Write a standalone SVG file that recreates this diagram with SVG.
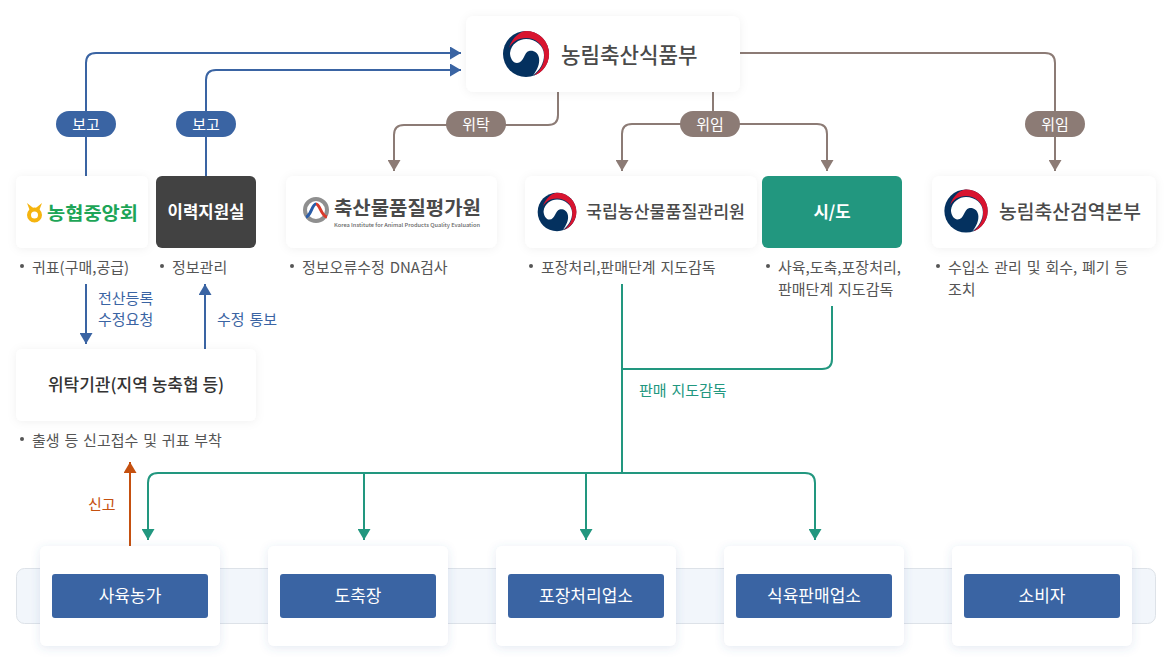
<svg xmlns="http://www.w3.org/2000/svg" width="1172" height="658" viewBox="0 0 1172 658">
<style>
text{font-family:"Noto Sans CJK KR","Noto Sans",sans-serif}
.card{fill:#fff;filter:url(#sh)}
.cardb{fill:#fff;filter:url(#shb)}
.ln{fill:none;stroke-width:2}
.b{stroke:#3a64a3}.t{stroke:#8c7b75}.g{stroke:#22977f}.o{stroke:#c5500f}
.pill{font-size:15px;fill:#fff;text-anchor:middle}
.d{font-size:15px;fill:#555;word-spacing:1.500px}
.e{font-size:15px;word-spacing:1.500px}
.bl{fill:#555}
.inner{fill:#3a64a3}
.it{font-size:17px;fill:#fff;text-anchor:middle}
.logo{font-weight:500;fill:#4a4a4a}
</style>
<defs>
<filter id="sh" x="-20%" y="-30%" width="140%" height="160%"><feDropShadow dx="0" dy="1" stdDeviation="5" flood-color="#000" flood-opacity=".06"/></filter>
<filter id="shb" x="-20%" y="-30%" width="140%" height="160%"><feDropShadow dx="0" dy="2" stdDeviation="5" flood-color="#3a64a3" flood-opacity=".14"/></filter>
<marker id="ab" markerUnits="userSpaceOnUse" markerWidth="13" markerHeight="13" refX="11" refY="6.500" orient="auto"><path d="M0 0L11 6.500L0 13z" fill="#3a64a3"/></marker>
<marker id="at" markerUnits="userSpaceOnUse" markerWidth="13" markerHeight="13" refX="11" refY="6.500" orient="auto"><path d="M0 0L11 6.500L0 13z" fill="#8c7b75"/></marker>
<marker id="ag" markerUnits="userSpaceOnUse" markerWidth="13" markerHeight="13" refX="11" refY="6.500" orient="auto"><path d="M0 0L11 6.500L0 13z" fill="#22977f"/></marker>
<marker id="ao" markerUnits="userSpaceOnUse" markerWidth="13" markerHeight="13" refX="11" refY="6.500" orient="auto"><path d="M0 0L11 6.500L0 13z" fill="#c5500f"/></marker>
<g id="emb">
<circle cx="0" cy="0" r="23" fill="#04315f"/>
<path d="M-17 -6C-14 -17 -5 -23 0 -23A23 23 0 0 1 8 21.600C16 15 19 8 18 -1C17 -10 9 -16 0 -16C-8 -16 -14 -12 -17 -6Z" fill="#d8142f"/>
<path d="M-16 -1C-15 -10 -7 -15 0 -15C10 -15 18 -8 18 1C18 9 14 16 7 21.500C11 16 14 10 13 4C12 -2 7 -4 3 -3C-2 -2 -2 9 -9 9C-13 9 -16 4 -16 -1Z" fill="#fff"/>
</g>
</defs>
<rect width="1172" height="658" fill="#fff"/>
<rect x="16.500" y="568.500" width="1139" height="55" rx="8" fill="#f2f6fb" stroke="#dde2e8"/>
<g id="connectors">
<path class="ln b" marker-end="url(#ab)" d="M86 176V63Q86 53 96 53H461"/>
<path class="ln b" marker-end="url(#ab)" d="M206 176V80Q206 70 216 70H461"/>
<path class="ln b" marker-end="url(#ab)" d="M86 284V344"/>
<path class="ln b" marker-end="url(#ab)" d="M205 349V284"/>
<path class="ln t" marker-end="url(#at)" d="M558 92V115Q558 125 548 125H404Q394 125 394 135V171"/>
<path class="ln t" d="M713 92V125"/>
<path class="ln t" marker-end="url(#at)" d="M713 124H632Q622 124 622 134V171"/>
<path class="ln t" marker-end="url(#at)" d="M713 124H817Q827 124 827 134V171"/>
<path class="ln t" marker-end="url(#at)" d="M740 53H1045Q1055 53 1055 63V171"/>
<path class="ln g" d="M622 284V473"/>
<path class="ln g" d="M832 306V359Q832 369 822 369H622"/>
<path class="ln g" marker-end="url(#ag)" d="M622 473H158Q148 473 148 483V540"/>
<path class="ln g" marker-end="url(#ag)" d="M364 473V540"/>
<path class="ln g" marker-end="url(#ag)" d="M586 473V540"/>
<path class="ln g" marker-end="url(#ag)" d="M622 473H805Q815 473 815 483V540"/>
<path class="ln o" marker-end="url(#ao)" d="M130 546V462"/>
</g>
<g id="pills">
<rect x="56" y="111" width="60" height="26" rx="13" fill="#3a64a3"/><text class="pill" x="86" y="129.500">보고</text>
<rect x="176" y="111" width="60" height="26" rx="13" fill="#3a64a3"/><text class="pill" x="206" y="129.500">보고</text>
<rect x="446" y="111" width="60" height="26" rx="13" fill="#8c7b75"/><text class="pill" x="476" y="129.500">위탁</text>
<rect x="680" y="111" width="60" height="26" rx="13" fill="#8c7b75"/><text class="pill" x="710" y="129.500">위임</text>
<rect x="1025" y="111" width="60" height="26" rx="13" fill="#8c7b75"/><text class="pill" x="1055" y="129.500">위임</text>
</g>
<g id="edge-labels">
<text class="e" x="98" y="304" fill="#3a64a3">전산등록</text>
<text class="e" x="98" y="325" fill="#3a64a3">수정요청</text>
<text class="e" x="217" y="325" fill="#3a64a3">수정 통보</text>
<text class="e" x="639" y="396" fill="#22977f">판매 지도감독</text>
<text class="e" x="88" y="510" fill="#c5500f">신고</text>
</g>
<g id="n-mafra"><rect class="card" x="466" y="16" width="274" height="76" rx="8"/><use href="#emb" x="526" y="54"/><text class="logo" x="561" y="62.500" font-size="21.200">농림축산식품부</text></g>
<g id="n-nh"><rect class="card" x="16" y="176" width="132" height="72" rx="6"/>
<circle cx="34.500" cy="215" r="5.500" fill="none" stroke="#f5b40f" stroke-width="4"/><path d="M27 203L34.500 209L42 203L39 211H30Z" fill="#f5b40f"/>
<text x="47" y="220" font-size="18" font-weight="700" fill="#1da557" textLength="91" lengthAdjust="spacingAndGlyphs">농협중앙회</text></g>
<g id="n-trace"><rect x="156" y="176" width="100" height="72" rx="6" fill="#424242"/><text x="206" y="218" font-size="16.700" font-weight="700" fill="#fff" text-anchor="middle">이력지원실</text></g>
<g id="n-kape"><rect class="card" x="286" y="176" width="211" height="72" rx="8"/>
<circle cx="316" cy="210" r="11" fill="none" stroke="#8f8f8f" stroke-width="4"/>
<path d="M306 217C311 216 312 204 316 204" fill="none" stroke="#2a5ca8" stroke-width="3"/><path d="M316 204C320 204 321 216 327 217" fill="none" stroke="#d93a2b" stroke-width="3"/>
<text x="334" y="215" font-size="19" font-weight="700" fill="#4a4a4a" textLength="147" lengthAdjust="spacingAndGlyphs">축산물품질평가원</text>
<text x="334" y="226.500" font-size="5" font-weight="500" fill="#666" textLength="146" lengthAdjust="spacingAndGlyphs">Korea Institute for Animal Products Quality Evaluation</text></g>
<g id="n-naqs"><rect class="card" x="525" y="176" width="232" height="72" rx="8"/><use href="#emb" transform="translate(557 212) scale(.84)"/><text class="logo" x="586" y="218" font-size="17.300">국립농산물품질관리원</text></g>
<g id="n-sido"><rect x="762" y="176" width="140" height="72" rx="6" fill="#22977f"/><text x="832" y="218" font-size="16.700" font-weight="700" fill="#fff" text-anchor="middle">시/도</text></g>
<g id="n-qia"><rect class="card" x="932" y="176" width="224" height="72" rx="8"/><use href="#emb" transform="translate(966 211) scale(.94)"/><text class="logo" x="999" y="218.500" font-size="19.300">농림축산검역본부</text></g>
<g id="n-agency"><rect class="card" x="16" y="349" width="240" height="72" rx="6"/><text x="136" y="391" font-size="17" font-weight="500" fill="#333" text-anchor="middle">위탁기관(지역 농축협 등)</text></g>
<g id="descs">
<circle class="bl" cx="22" cy="266" r="2"/><text class="d" x="32" y="272.500">귀표(구매,공급)</text>
<circle class="bl" cx="162" cy="266" r="2"/><text class="d" x="172" y="272.500">정보관리</text>
<circle class="bl" cx="292" cy="266" r="2"/><text class="d" x="302" y="272.500">정보오류수정 DNA검사</text>
<circle class="bl" cx="531" cy="266" r="2"/><text class="d" x="541" y="272.500">포장처리,판매단계 지도감독</text>
<circle class="bl" cx="768" cy="266" r="2"/><text class="d" x="778" y="272.500">사육,도축,포장처리,</text><text class="d" x="778" y="294.500">판매단계 지도감독</text>
<circle class="bl" cx="938" cy="266" r="2"/><text class="d" x="948" y="272.500">수입소 관리 및 회수, 폐기 등</text><text class="d" x="948" y="294.500">조치</text>
<circle class="bl" cx="22" cy="439" r="2"/><text class="d" x="32" y="445.500">출생 등 신고접수 및 귀표 부착</text>
</g>
<g id="n-farm"><rect class="cardb" x="40" y="546" width="180" height="100" rx="6"/><rect class="inner" x="52" y="574" width="156" height="44" rx="3"/><text class="it" x="130" y="601.500">사육농가</text></g>
<g id="n-slaughter"><rect class="cardb" x="268" y="546" width="180" height="100" rx="6"/><rect class="inner" x="280" y="574" width="156" height="44" rx="3"/><text class="it" x="358" y="601.500">도축장</text></g>
<g id="n-pack"><rect class="cardb" x="496" y="546" width="180" height="100" rx="6"/><rect class="inner" x="508" y="574" width="156" height="44" rx="3"/><text class="it" x="586" y="601.500">포장처리업소</text></g>
<g id="n-sale"><rect class="cardb" x="724" y="546" width="180" height="100" rx="6"/><rect class="inner" x="736" y="574" width="156" height="44" rx="3"/><text class="it" x="814" y="601.500">식육판매업소</text></g>
<g id="n-consumer"><rect class="cardb" x="952" y="546" width="180" height="100" rx="6"/><rect class="inner" x="964" y="574" width="156" height="44" rx="3"/><text class="it" x="1042" y="601.500">소비자</text></g>
</svg>
